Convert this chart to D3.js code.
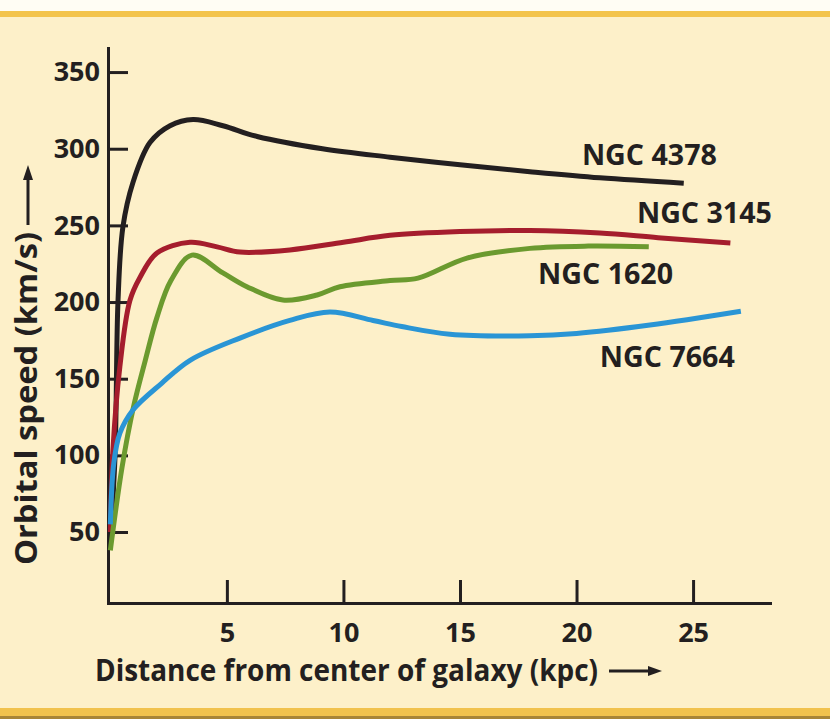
<!DOCTYPE html>
<html>
<head>
<meta charset="utf-8">
<script src="https://cdn.jsdelivr.net/npm/d3@7"></script>
<style>
  html, body { margin: 0; padding: 0; background: #fff; }
  svg { display: block; }
  text { font-family: "Open Sans", "DejaVu Sans", sans-serif; font-weight: 700; fill: #231f20; }
</style>
</head>
<body>
<svg id="chart" width="830" height="719"></svg>
<script>
(function() {

  // --- data (kpc, km/s) ---
  var kpcTicks = [5, 10, 15, 20, 25];
  var speedTicks = [50, 100, 150, 200, 250, 300, 350];
  var galaxies = ["NGC 4378", "NGC 3145", "NGC 1620", "NGC 7664"];

  var ngc4378Dist  = [0, 0.2, 0.33, 0.54, 0.97, 1.7, 2.56, 3.55, 4.83, 6.3, 9.1, 12, 15, 18, 21, 24.6];
  var ngc4378Speed = [45, 99, 201, 249, 278, 304, 315, 319, 315, 308, 300, 294.5, 289.5, 285, 281, 277.5];

  var ngc3145Dist  = [0, 0.11, 0.41, 0.84, 1.27, 2.0, 3.42, 4.58, 5.56, 7.7, 10, 12, 15, 18, 21, 23.5, 26.6];
  var ngc3145Speed = [50, 103, 158, 201, 216, 232, 239, 236, 232.6, 234, 239, 243.5, 246, 246.7, 245, 242, 238.5];

  var ngc1620Dist  = [0, 0.5, 1.0, 1.5, 2.0, 2.6, 3.5, 4.83, 5.86, 7.4, 8.87, 9.85, 12, 13.2, 15.3, 18, 20.5, 23.1];
  var ngc1620Speed = [38, 92, 132, 162, 190, 214, 230.6, 219, 210, 201.3, 204.6, 210, 214, 215.6, 228.7, 235, 236.5, 236];

  var ngc7664Dist  = [0, 0.15, 0.41, 0.97, 2.2, 3.42, 5.56, 7.7, 9.42, 11.27, 12.5, 14.57, 18, 20, 23.15, 27.05];
  var ngc7664Speed = [55, 95, 114.5, 129.6, 147, 162, 176.5, 188, 193.5, 188, 184, 179, 178, 179.5, 185, 194];

  // label anchors, in data units
  var labelDist  = [20.23, 22.59, 18.35, 21.0];
  var labelSpeed = [289.4, 251.5, 211.7, 157.6];

  var COLORS = {
    "NGC 4378" : "#231f20",
    "NGC 3145" : "#a51d2d",
    "NGC 1620" : "#6b9a2f",
    "NGC 7664" : "#2a95d5"
  };

  var series = [
    {name : galaxies[0], dist : ngc4378Dist, speed : ngc4378Speed},
    {name : galaxies[1], dist : ngc3145Dist, speed : ngc3145Speed},
    {name : galaxies[2], dist : ngc1620Dist, speed : ngc1620Speed},
    {name : galaxies[3], dist : ngc7664Dist, speed : ngc7664Speed}
  ];

  var svg = d3.select("#chart");
  var ink = "#231f20";

  // background + gold rules
  svg.append("rect").attr("x", 0).attr("y", 0).attr("width", 830).attr("height", 719).attr("fill", "#fdf0c9");
  svg.append("rect").attr("x", 0).attr("y", 0).attr("width", 830).attr("height", 11).attr("fill", "#fffdf4");
  svg.append("rect").attr("x", 0).attr("y", 11).attr("width", 830).attr("height", 6).attr("fill", "#f3c44c");
  svg.append("rect").attr("x", 0).attr("y", 708).attr("width", 830).attr("height", 8).attr("fill", "#f1c24d");
  svg.append("rect").attr("x", 0).attr("y", 716).attr("width", 830).attr("height", 3).attr("fill", "#a88537");

  var x = d3.scaleLinear().domain([-0.1, 28.3]).range([108, 770]);
  var y = d3.scaleLinear().domain([3.7, 365.7]).range([603, 48]);

  // axes
  var yAxis = d3.axisLeft(y).tickValues(speedTicks).tickSizeInner(-20).tickSizeOuter(0).tickPadding(8);
  var xAxis = d3.axisBottom(x).tickValues(kpcTicks).tickSizeInner(-23).tickSizeOuter(0).tickPadding(20);

  var gy = svg.append("g").attr("transform", "translate(108,0)").call(yAxis);
  var gx = svg.append("g").attr("transform", "translate(0,603)").call(xAxis);

  [gx, gy].forEach(function(g) {
    g.selectAll("path.domain").attr("stroke", ink).attr("stroke-width", 3).attr("stroke-linecap", "square");
    g.selectAll(".tick line").attr("stroke", ink).attr("stroke-width", 3);
    g.selectAll(".tick text")
      .attr("fill", ink)
      .style("font-family", "'Open Sans', sans-serif")
      .style("font-weight", 700)
      .style("font-size", "27px");
  });

  // curves
  var line = d3.line()
    .x(d => x(d[0]))
    .y(d => y(d[1]))
    .curve(d3.curveCatmullRom.alpha(0.5));

  svg.append("g").selectAll("path.curve")
    .data(series)
    .enter().append("path")
    .attr("class", "curve")
    .attr("fill", "none")
    .attr("stroke", d => COLORS[d.name])
    .attr("stroke-width", 5)
    .attr("stroke-linecap", "butt")
    .attr("d", d => line(d.dist.map((v, i) => [v, d.speed[i]])));

  // series labels
  svg.append("g").selectAll("text.label")
    .data(galaxies)
    .enter().append("text")
    .attr("class", "label")
    .attr("x", (d, i) => x(labelDist[i]))
    .attr("y", (d, i) => y(labelSpeed[i]))
    .style("font-size", "29px")
    .attr("textLength", 135)
    .attr("lengthAdjust", "spacingAndGlyphs")
    .text(d => d);

  // axis titles with arrows
  svg.append("text")
    .attr("x", 95).attr("y", 681)
    .style("font-size", "30px")
    .attr("textLength", 503)
    .attr("lengthAdjust", "spacingAndGlyphs")
    .text("Distance from center of galaxy (kpc)");

  svg.append("line").attr("x1", 609).attr("x2", 650).attr("y1", 671).attr("y2", 671)
    .attr("stroke", ink).attr("stroke-width", 3);
  svg.append("path").attr("d", "M648,666 L662,671 L648,676Z").attr("fill", ink);

  svg.append("text")
    .attr("transform", "translate(37,565) rotate(-90)")
    .style("font-size", "30px")
    .attr("textLength", 333)
    .attr("lengthAdjust", "spacingAndGlyphs")
    .text("Orbital speed (km/s)");

  svg.append("line").attr("x1", 28).attr("x2", 28).attr("y1", 225).attr("y2", 178)
    .attr("stroke", ink).attr("stroke-width", 3);
  svg.append("path").attr("d", "M23,180 L28,165 L33,180Z").attr("fill", ink);

})();
</script>
</body>
</html>
